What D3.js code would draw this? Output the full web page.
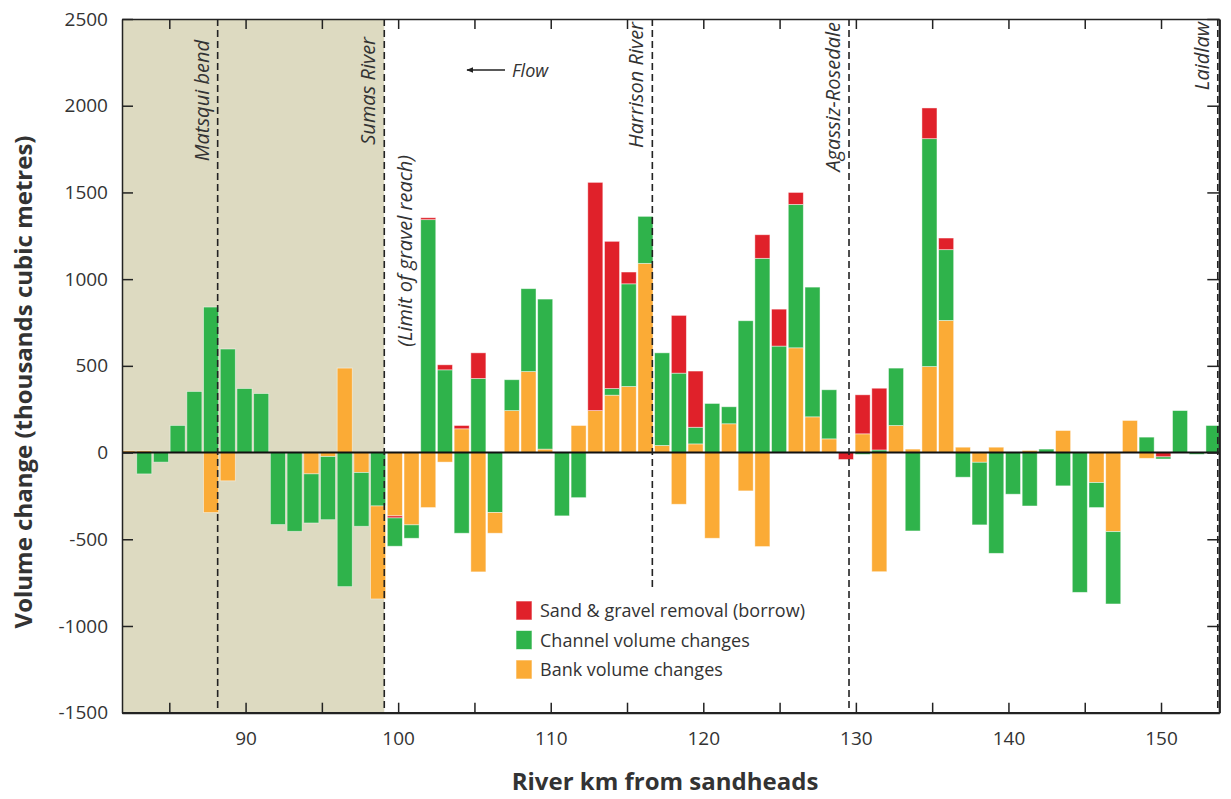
<!DOCTYPE html>
<meta charset="utf-8">
<style>
    body { margin: 0; background: #fff; }
    text { font-family: "Open Sans", sans-serif; fill: #333; }
    .axis text { font-size: 19px; fill: #333; }
    .axis path, .axis line { stroke: #222; stroke-width: 1.5; }
    .marker text { font-style: italic; font-size: 20px; }
    .legend text { font-size: 18px; }
    .title { font-weight: bold; font-size: 24px; fill: #333; }
</style>
<svg width="1231" height="799"></svg>
<script src="https://d3js.org/d3.v7.min.js"></script>
<script>

    // volumes per survey segment, thousands of cubic metres (downstream -> upstream)
    var bank = [10, 10, 0, 0, 0, -346, -163, 0, 0, 0, 0, -123, -23, 487, -115, -536,
        -365, -417, -317, -55, 137, -688, -119, 242, 467, 20, 0, 156, 242, 331, 381, 1091,
        41, -298, 50, -494, 166, -221, -542, 0, 604, 206, 79, 0, 108, -687, 156, 20,
        496, 762, 31, -56, 31, 0, 12, 0, 127, 0, -173, -456, 185, -33, 0, 0, 0, 0];
    var channel = [0, -123, -55, 156, 352, 839, 597, 369, 340, -415, -454, -283, -364, -773, -310, -308,
        -163, -77, 1343, 477, -465, 427, -346, 178, 478, 865, -365, -260, 0, 38, 592, 271,
        534, 458, 96, 283, 98, 760, 1120, 614, 827, 748, 283, 0, -10, 15, 331, -452,
        1314, 408, -142, -361, -581, -240, -308, 20, -192, -806, -144, -417, 0, 89, -12, 242, -10, 156];
    var borrow = [0, 0, 0, 0, 0, 0, 0, 0, 0, 0, 0, 0, 0, 0, 0, 0,
        -12, 0, 11, 29, 19, 148, 0, 0, 0, 0, 0, 0, 1316, 849, 68, 0,
        0, 333, 324, 0, 0, 0, 136, 213, 69, 0, 0, -40, 225, 356, 0, 0,
        177, 67, 0, 0, 0, 0, 0, 0, 0, 0, 0, 0, 0, 0, -25, 0, 0, 0];
    // segments where the channel loss sits next to zero, above the bank loss
    var channelFirst = [15, 22];

    var yTicks = [-1500, -1000, -500, 0, 500, 1000, 1500, 2000, 2500];
    var xTicks = [85, 90, 95, 100, 105, 110, 115, 120, 125, 130, 135, 140, 145, 150];

    var markers = [
        {km: 88.17, label: "Matsqui bend", full: true, labelY: 40},
        {km: 99.09, label: "Sumas River", full: true, labelY: 37},
        {km: 116.66, label: "Harrison River", full: false, labelY: 22},
        {km: 129.55, label: "Agassiz-Rosedale", full: true, labelY: 22},
        {km: 153.72, label: "Laidlaw", full: true, labelY: 22}
    ];

    var series = [
        {name: "Sand & gravel removal (borrow)", values: borrow, color: "#e0212a"},
        {name: "Channel volume changes", values: channel, color: "#2fb34b"},
        {name: "Bank volume changes", values: bank, color: "#fbab36"}
    ];

    var svg = d3.select("svg"),
        pLeft = 122, pRight = 1219.3, pTop = 19, pBottom = 712.7;

    var x = d3.scaleLinear().domain([81.9, 153.82]).range([pLeft, pRight]);
    var y = d3.scaleLinear().domain([-1500, 2500]).range([pBottom, pTop]);
    var seg = d3.scaleBand()
        .domain(d3.range(bank.length))
        .range([x(81.77), x(153.93)])
        .paddingInner(0.1);

    var defs = svg.append("defs");
    defs.append("clipPath").attr("id", "plot")
        .append("rect").attr("x", pLeft).attr("y", pTop)
        .attr("width", pRight - pLeft).attr("height", pBottom - pTop);

    // shaded reach below Sumas River
    svg.append("rect")
        .attr("x", pLeft).attr("y", pTop)
        .attr("width", x(99.09) - pLeft).attr("height", pBottom - pTop)
        .attr("fill", "#dddac1");

    // stack each segment: positives bank, channel, borrow; negatives bank, borrow, channel
    var rects = [];
    d3.range(bank.length).forEach(function (i) {
        var pos = 0, neg = 0;
        [["bank", bank], ["channel", channel], ["borrow", borrow]].forEach(function (s) {
            var v = s[1][i];
            if (v > 0) { rects.push({i: i, key: s[0], y0: pos, y1: pos + v}); pos += v; }
        });
        var negOrder = channelFirst.indexOf(i) >= 0 ?
            [["channel", channel], ["bank", bank], ["borrow", borrow]] :
            [["bank", bank], ["borrow", borrow], ["channel", channel]];
        negOrder.forEach(function (s) {
            var v = s[1][i];
            if (v < 0) { rects.push({i: i, key: s[0], y0: neg, y1: neg + v}); neg += v; }
        });
    });

    var color = {bank: "#fbab36", channel: "#2fb34b", borrow: "#e0212a"};

    svg.append("g").attr("clip-path", "url(#plot)")
        .selectAll("rect")
        .data(rects)
        .enter().append("rect")
        .attr("x", function (d) { return seg(d.i); })
        .attr("width", seg.bandwidth())
        .attr("y", function (d) { return y(Math.max(d.y0, d.y1)); })
        .attr("height", function (d) { return Math.abs(y(d.y0) - y(d.y1)); })
        .attr("fill", function (d) { return color[d.key]; })
        .attr("stroke", "rgba(255,255,255,0.55)")
        .attr("stroke-width", 0.8);

    // zero line
    svg.append("line")
        .attr("x1", pLeft).attr("x2", pRight)
        .attr("y1", y(0)).attr("y2", y(0))
        .attr("stroke", "#111").attr("stroke-width", 2);

    // dashed reach markers
    var mk = svg.append("g").attr("class", "marker");
    mk.selectAll("line")
        .data(markers)
        .enter().append("line")
        .attr("x1", function (d) { return x(d.km); })
        .attr("x2", function (d) { return x(d.km); })
        .attr("y1", pTop)
        .attr("y2", function (d) { return d.full ? pBottom : 590; })
        .attr("stroke", "#222").attr("stroke-width", 1.6)
        .attr("stroke-dasharray", "7,4");

    mk.selectAll("text.m")
        .data(markers)
        .enter().append("text")
        .attr("class", "m")
        .attr("transform", function (d) {
            return "translate(" + (x(d.km) - 9) + "," + d.labelY + ") rotate(-90)";
        })
        .attr("text-anchor", "end")
        .text(function (d) { return d.label; });

    mk.append("text")
        .attr("transform", "translate(412,155) rotate(-90)")
        .attr("text-anchor", "end")
        .text("(Limit of gravel reach)");

    // flow arrow
    defs.append("marker")
        .attr("id", "arrow").attr("viewBox", "0 0 10 10")
        .attr("refX", 9).attr("refY", 5)
        .attr("markerWidth", 7).attr("markerHeight", 7)
        .attr("markerUnits", "userSpaceOnUse")
        .attr("orient", "auto")
        .append("path").attr("d", "M0,1 L10,5 L0,9 Z").attr("fill", "#222");
    svg.append("line")
        .attr("x1", 505).attr("x2", 467).attr("y1", 70).attr("y2", 70)
        .attr("stroke", "#222").attr("stroke-width", 1.3)
        .attr("marker-end", "url(#arrow)");
    svg.append("text")
        .attr("x", 512).attr("y", 77)
        .style("font-style", "italic").style("font-size", "18px")
        .text("Flow");

    // axes (ticks pointing inward on all four sides)
    svg.append("g").attr("class", "axis")
        .attr("transform", "translate(" + pLeft + ",0)")
        .call(d3.axisLeft(y).tickValues(yTicks).tickSizeInner(-11).tickSizeOuter(0).tickPadding(14)
            .tickFormat(function (d) { return String(d); }));
    svg.append("g").attr("class", "axis")
        .attr("transform", "translate(" + pRight + ",0)")
        .call(d3.axisRight(y).tickValues(yTicks).tickSizeInner(-12).tickSizeOuter(0).tickFormat(""))
        .select(".domain").style("stroke-width", 2.2);
    svg.append("g").attr("class", "axis")
        .attr("transform", "translate(0," + pBottom + ")")
        .call(d3.axisBottom(x).tickValues(xTicks).tickSizeInner(-10).tickSizeOuter(0).tickPadding(19)
            .tickFormat(function (d) { return d % 10 === 0 ? d : ""; }))
        .select(".domain").style("stroke-width", 2.2);
    svg.append("g").attr("class", "axis")
        .attr("transform", "translate(0," + pTop + ")")
        .call(d3.axisTop(x).tickValues(xTicks).tickSizeInner(-10).tickSizeOuter(0).tickFormat(""));

    // legend
    var lg = svg.append("g").attr("class", "legend")
        .attr("transform", "translate(516,601)");
    var row = lg.selectAll("g")
        .data(series)
        .enter().append("g")
        .attr("transform", function (d, i) { return "translate(0," + i * 29.5 + ")"; });
    row.append("rect")
        .attr("width", 16).attr("height", 19)
        .attr("fill", function (d) { return d.color; })
        .attr("stroke", "rgba(255,255,255,0.6)");
    row.append("text")
        .attr("x", 24).attr("y", 16)
        .text(function (d) { return d.name; });

    // axis titles
    svg.append("text").attr("class", "title")
        .attr("transform", "translate(32,382) rotate(-90)")
        .attr("text-anchor", "middle")
        .text("Volume change (thousands cubic metres)");
    svg.append("text").attr("class", "title")
        .attr("x", 665).attr("y", 790)
        .attr("text-anchor", "middle")
        .text("River km from sandheads");
</script>
